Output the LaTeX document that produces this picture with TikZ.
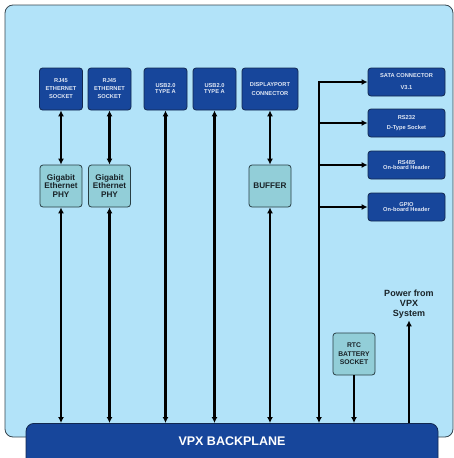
\documentclass[tikz,border=0pt]{standalone}
\usepackage{fontspec}
\setmainfont{Liberation Sans}
\usetikzlibrary{arrows.meta}
\usepackage{xcolor}
\definecolor{boardblue}{RGB}{178,227,249}
\definecolor{boardline}{RGB}{55,70,80}
\definecolor{boxblue}{RGB}{23,70,155}
\definecolor{boxline}{RGB}{18,40,80}
\definecolor{boxtext}{RGB}{225,232,245}
\definecolor{phyteal}{RGB}{146,206,216}
\definecolor{phyline}{RGB}{40,62,68}
\definecolor{phytext}{RGB}{25,35,40}
\newcommand{\fsz}[2]{\fontsize{#1}{#2}\selectfont}

\begin{document}
\begin{tikzpicture}[x=1pt, y=-1pt, >={Latex[length=6pt,width=6pt]},
    portbox/.style={draw=boxline, fill=boxblue, line width=0.8pt, rounded corners=3pt,
      text=boxtext, align=center, inner sep=1pt, font=\bfseries\fsz{5.7}{8},
      minimum width=43pt, minimum height=42pt},
    sidebox/.style={portbox, minimum width=77pt, minimum height=28pt, font=\bfseries\fsz{5.7}{7}},
    phybox/.style={draw=phyline, fill=phyteal, line width=0.8pt, rounded corners=3pt,
      text=phytext, align=center, inner sep=1pt, font=\bfseries\fsz{8.2}{8.3},
      minimum width=42pt, minimum height=42pt},
    link/.style={line width=2.1pt}]

      \useasboundingbox (0,0) rectangle (454,458);
      % board
      \draw [draw=boardline, fill=boardblue, line width=0.8pt, rounded corners=8pt]
        (5,5) rectangle (453,437);

      \node at (232,423) [anchor=north, draw=boxline, fill=boxblue, line width=0.8pt,
        rounded corners=8pt, minimum width=412pt, minimum height=50pt, text depth=14pt,
        text=white, font=\bfseries\fsz{12.5}{14}, name=vpx] {VPX BACKPLANE};

      % top connectors
      \node at (61,89) [portbox, name=eth1] {RJ45\\ETHERNET\\SOCKET};
      \node at (109.5,89) [portbox, name=eth2] {RJ45\\ETHERNET\\SOCKET};
      \node at (165.5,89) [portbox, name=usb1] {USB2.0\\[-2pt]TYPE A};
      \node at (214.5,89) [portbox, name=usb2] {USB2.0\\[-2pt]TYPE A};
      \node at (270,89) [portbox, minimum width=56pt, name=dp]
      {DISPLAYPORT\\[1.4pt]CONNECTOR};

      \node at (61,186) [phybox, name=phy1] {Gigabit\\Ethernet\\PHY};
      \node at (109.5,186) [phybox, name=phy2] {Gigabit\\Ethernet\\PHY};
      \node at (270,186) [phybox, name=buf] {BUFFER};

      % side connectors
      \node at (406.5,82) [sidebox, name=sata] {SATA CONNECTOR\\[5pt]V3.1};
      \node at (406.5,123) [sidebox, name=rs232] {RS232\\[3.5pt]D-Type Socket};
      \node at (406.5,165) [sidebox, name=rs485] {RS485\\[-1.5pt]On-board Header};
      \node at (406.5,207) [sidebox, name=gpio] {GPIO\\[-1.5pt]On-board Header};

      \node at (354,354) [phybox, font=\bfseries\fsz{6.8}{8.5}, name=rtc]
      {RTC\\BATTERY\\SOCKET};
      \node at (409,304) [align=center, text=phytext, inner sep=2pt,
        font=\bfseries\fsz{9}{10}, name=pwr] {Power from\\VPX\\System};

      \coordinate (bus) at (319,82);

      \draw [link, <->] (eth1) -- (phy1);
      \draw [link, <->] (eth2) -- (phy2);
      \draw [link, <->] (phy1) -- (phy1 |- vpx.north);
      \draw [link, <->] (phy2) -- (phy2 |- vpx.north);
      \draw [link, <->] (usb1) -- (usb1 |- vpx.north);
      \draw [link, <->] (usb2) -- (usb2 |- vpx.north);
      \draw [link, <->] (dp) -- (buf);
      \draw [link, <->] (buf) -- (buf |- vpx.north);

      \draw [link, <->] (bus |- vpx.north) -- (bus) -- (sata.west);
      \draw [link, ->] (bus |- rs232.west) -- (rs232.west);
      \draw [link, ->] (bus |- rs485.west) -- (rs485.west);
      \draw [link, ->] (bus |- gpio.west) -- (gpio.west);

      \draw [link, ->] (rtc) -- (rtc |- vpx.north);
      \draw [link, ->] (pwr |- vpx.north) -- (pwr.south);

    \end{tikzpicture}
\end{document}
